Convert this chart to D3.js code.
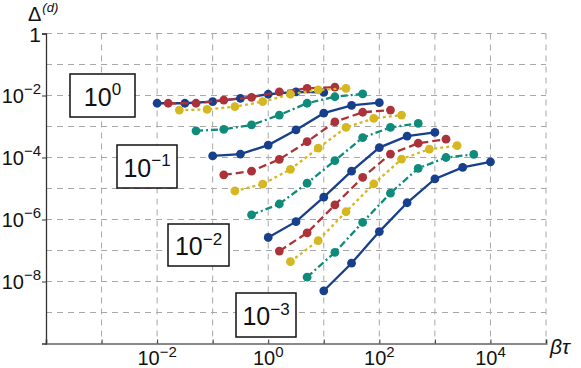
<!DOCTYPE html>
<html>
<head>
<meta charset="utf-8">
<script src="https://cdn.jsdelivr.net/npm/d3@7"></script>
<style>
  body { margin: 0; background: #fff; }
  text { font-family: "Liberation Sans Narrow", "Liberation Sans", Arial, sans-serif; fill: #111; }
  text.title { font-family: "Liberation Sans", Arial, sans-serif; }
</style>
</head>
<body>
<svg width="581" height="368"></svg>
<script>
// log10 of beta*tau for every point of each curve
var xExp = [
    [-2, -1.5, -1, -0.5, 0, 0.5, 1],
    [-1.8, -1.3, -0.8, -0.3, 0.2, 0.7, 1.2],
    [-1.6, -1.1, -0.6, -0.1, 0.4, 0.9, 1.4],
    [-1.3, -0.8, -0.3, 0.2, 0.7, 1.2, 1.7],
    [-1, -0.5, 0, 0.5, 1, 1.5, 2],
    [-0.8, -0.3, 0.2, 0.7, 1.2, 1.7, 2.2],
    [-0.6, -0.1, 0.4, 0.9, 1.4, 1.9, 2.4],
    [-0.3, 0.2, 0.7, 1.2, 1.7, 2.2, 2.7],
    [0, 0.5, 1, 1.5, 2, 2.5, 3],
    [0.2, 0.7, 1.2, 1.7, 2.2, 2.7, 3.2],
    [0.4, 0.9, 1.4, 1.9, 2.4, 2.9, 3.4],
    [0.7, 1.2, 1.7, 2.2, 2.7, 3.2, 3.7],
    [1, 1.5, 2, 2.5, 3, 3.5, 4]
];
// log10 of Delta^(d)
var yExp = [
    [-2.25, -2.25, -2.2, -2.09, -1.96, -1.88, -1.9],
    [-2.25, -2.25, -2.15, -2.06, -1.88, -1.77, -1.73],
    [-2.47, -2.45, -2.36, -2.2, -1.96, -1.82, -1.77],
    [-3.14, -3.09, -2.95, -2.63, -2.25, -2.04, -1.95],
    [-3.95, -3.89, -3.6, -3.11, -2.57, -2.32, -2.23],
    [-4.56, -4.44, -4.06, -3.49, -2.85, -2.54, -2.47],
    [-5.08, -4.86, -4.38, -3.7, -3.03, -2.74, -2.63],
    [-5.85, -5.5, -4.83, -4.1, -3.36, -3.03, -2.9],
    [-6.58, -6.07, -5.28, -4.44, -3.68, -3.31, -3.19],
    [-7.02, -6.43, -5.53, -4.64, -3.89, -3.54, -3.41],
    [-7.36, -6.68, -5.75, -4.85, -4.05, -3.73, -3.62],
    [-7.86, -7.06, -6.09, -5.15, -4.35, -4.0, -3.9],
    [-8.3, -7.41, -6.39, -5.46, -4.69, -4.32, -4.14]
];
var seriesStyle = ['blue', 'red', 'yellow', 'teal', 'blue', 'red', 'yellow', 'teal', 'blue', 'red', 'yellow', 'teal', 'blue'];
var xTickExp = [-2, 0, 2, 4];
var yTickExp = [0, -2, -4, -6, -8];
var boxExp = [0, -1, -2, -3];

var colors = { blue: '#183f8c', red: '#ab3238', yellow: '#d5b821', teal: '#0f8b7b' };
var dashes = { blue: null, red: '8,4', yellow: '3,3', teal: '7,3,2,3' };
var boxPos = [[70, 74, 65, 43], [117, 145, 60, 43], [168, 224, 61, 42], [236, 293, 60, 44]];

var svg = d3.select('svg');
var x = d3.scaleLog().domain([1e-4, 1e5]).range([46, 546]);
var y = d3.scaleLog().domain([1e-10, 1]).range([343.5, 33.5]);

var decadesX = d3.range(-3, 6).map(function (e) { return Math.pow(10, e); });
var decadesY = d3.range(-9, 1).map(function (e) { return Math.pow(10, e); });

// grid
var grid = svg.append('g').attr('stroke', '#a8a8a8').attr('stroke-width', 1).attr('stroke-dasharray', '6,5');
grid.selectAll('.vx').data(decadesX).enter().append('line')
    .attr('x1', function (d) { return x(d); }).attr('x2', function (d) { return x(d); })
    .attr('y1', y(1)).attr('y2', y(1e-10));
grid.selectAll('.hy').data(decadesY).enter().append('line')
    .attr('x1', x(1e-4)).attr('x2', x(1e5))
    .attr('y1', function (d) { return y(d); }).attr('y2', function (d) { return y(d); });

// axes
var xAxis = d3.axisBottom(x).tickValues(decadesX.concat([1e-4])).tickSize(-4).tickFormat('');
svg.append('g').attr('transform', 'translate(0,' + y(1e-10) + ')').call(xAxis)
    .call(function (g) {
        g.select('.domain').attr('stroke', '#888').attr('stroke-width', 2);
        g.selectAll('.tick line').attr('stroke', '#333');
    });
var yAxis = d3.axisLeft(y).tickValues(yTickExp.map(function (e) { return Math.pow(10, e); })).tickSize(4).tickFormat('');
svg.append('g').attr('transform', 'translate(' + x(1e-4) + ',0)').call(yAxis)
    .call(function (g) {
        g.select('.domain').attr('stroke', '#333').attr('stroke-width', 1.3);
        g.selectAll('.tick line').attr('stroke', '#333');
    });

function powerLabel(sel, e, base, sup) {
    sel.append('tspan').attr('font-size', base).text('10');
    sel.append('tspan').attr('font-size', sup).attr('dy', -base * 0.42)
        .text(e < 0 ? '\u2212' + (-e) : String(e));
}

svg.selectAll('.xl').data(xTickExp).enter().append('text')
    .attr('x', function (d) { return x(Math.pow(10, d)); })
    .attr('y', 365).attr('text-anchor', 'middle')
    .each(function (d) { powerLabel(d3.select(this), d, 20, 15); });

svg.selectAll('.yl').data(yTickExp).enter().append('text')
    .attr('x', 41).attr('y', function (d) { return y(Math.pow(10, d)) + 7; })
    .attr('text-anchor', 'end')
    .each(function (d) {
        if (d === 0) d3.select(this).attr('font-size', 21).attr('dy', 1.5).text('1');
        else powerLabel(d3.select(this), d, 20, 15);
    });

// axis titles
var yt = svg.append('text').attr('class', 'title').attr('x', 28).attr('y', 21);
yt.append('tspan').attr('font-size', 20).text('\u0394');
yt.append('tspan').attr('font-size', 13).attr('dx', 1).attr('dy', -9).attr('font-style', 'italic').text('(d)');
svg.append('text').attr('class', 'title').attr('x', 550).attr('y', 354).attr('font-size', 21).attr('font-style', 'italic').text('\u03b2\u03c4');

// curves
var line = d3.line()
    .x(function (d) { return x(Math.pow(10, d[0])); })
    .y(function (d) { return y(Math.pow(10, d[1])); });

var curves = xExp.map(function (xs, i) {
    return { style: seriesStyle[i], pts: xs.map(function (v, j) { return [v, yExp[i][j]]; }) };
});

var cg = svg.selectAll('.curve').data(curves).enter().append('g');
cg.append('path')
    .attr('d', function (d) { return line(d.pts); })
    .attr('fill', 'none')
    .attr('stroke', function (d) { return colors[d.style]; })
    .attr('stroke-width', 2.3)
    .attr('stroke-dasharray', function (d) { return dashes[d.style]; });
cg.selectAll('circle').data(function (d) { return d.pts.map(function (p) { return { p: p, c: colors[d.style] }; }); })
    .enter().append('circle')
    .attr('cx', function (d) { return x(Math.pow(10, d.p[0])); })
    .attr('cy', function (d) { return y(Math.pow(10, d.p[1])); })
    .attr('r', 4.4)
    .attr('fill', function (d) { return d.c; });

// boxed labels
var bx = svg.selectAll('.box').data(boxExp).enter().append('g')
    .attr('transform', function (d, i) { return 'translate(' + boxPos[i][0] + ',' + boxPos[i][1] + ')'; });
bx.append('rect')
    .attr('width', function (d, i) { return boxPos[i][2]; })
    .attr('height', function (d, i) { return boxPos[i][3]; })
    .attr('fill', '#fff').attr('stroke', '#111').attr('stroke-width', 1.5);
bx.append('text')
    .attr('x', function (d, i) { return boxPos[i][2] / 2; })
    .attr('y', function (d, i) { return boxPos[i][3] / 2 + 10; })
    .attr('text-anchor', 'middle')
    .each(function (d) { powerLabel(d3.select(this), d, 25, 17); });
</script>
</body>
</html>
